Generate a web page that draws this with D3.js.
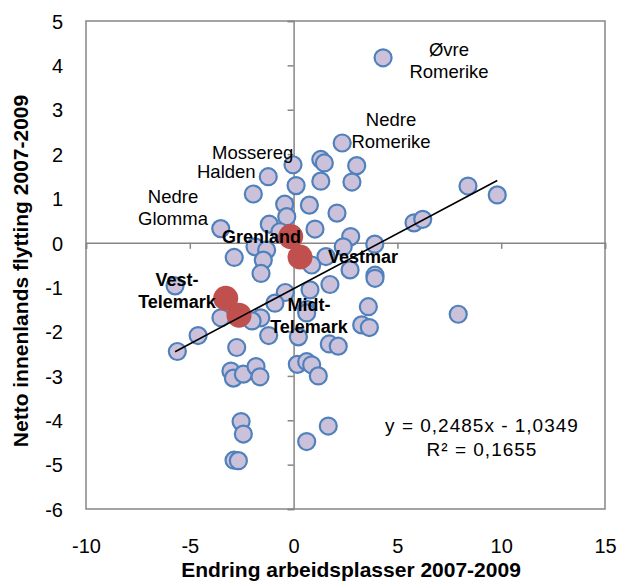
<!DOCTYPE html>
<html>
<head>
<meta charset="utf-8">
<script src="https://cdn.jsdelivr.net/npm/d3@7/dist/d3.min.js"></script>
<style>
  html, body { margin: 0; padding: 0; background: #fff; }
  svg { display: block; font-family: "Liberation Sans", Arial, sans-serif; }
</style>
</head>
<body>
<svg id="chart" width="619" height="581"></svg>
<script>
// ---- data ----
const xTicks = [-10, -5, 0, 5, 10, 15];
const yTicks = [-6, -5, -4, -3, -2, -1, 0, 1, 2, 3, 4, 5];

// all regions (lavender)
const jobsChange = [4.31,2.34,-0.03,1.31,1.48,3.04,-1.22,0.12,1.31,2.81,-1.94,0.76,-0.43,-0.33,2.09,1.03,-1.17,-3.51,2.75,2.39,3.91,5.80,6.22,8.40,9.81,-0.66,-1.86,-1.30,-2.86,-1.46,-1.57,-5.71,-0.40,-0.90,-3.50,-1.58,-2.00,-4.60,-1.20,-2.74,-5.60,0.79,1.75,0.63,0.63,0.23,1.72,2.15,-3.02,-2.90,-2.42,-1.81,-1.62,0.18,0.63,0.87,1.19,-2.53,-2.42,-2.87,-2.66,0.63,1.67,1.56,0.87,2.72,3.92,3.92,3.60,3.28,3.65,7.93];
const netMigration = [4.17,2.25,1.76,1.88,1.80,1.74,1.49,1.29,1.39,1.37,1.10,0.85,0.87,0.59,0.67,0.31,0.42,0.32,0.14,-0.09,-0.03,0.45,0.53,1.28,1.08,0.25,-0.09,-0.16,-0.33,-0.39,-0.69,-0.97,-1.12,-1.36,-1.69,-1.69,-1.76,-2.09,-2.09,-2.36,-2.45,-1.06,-0.94,-1.50,-1.58,-2.12,-2.28,-2.33,-2.89,-3.05,-2.96,-2.79,-3.02,-2.74,-2.68,-2.75,-3.00,-4.03,-4.31,-4.90,-4.91,-4.48,-4.13,-0.31,-0.50,-0.61,-0.73,-0.80,-1.44,-1.85,-1.91,-1.61];

// Telemark regions (red)
const telemarkNames = ["Grenland", "Vestmar", "Vest-Telemark", "Midt-Telemark"];
const telemarkJobs = [-0.14, 0.31, -3.27, -2.63];
const telemarkMigration = [0.14, -0.32, -1.25, -1.63];

// trend line
const slope = 0.2485, intercept = -1.0349;
const equationText = "y = 0,2485x - 1,0349";
const r2Text = "R² = 0,1655";

const xTitle = "Endring arbeidsplasser 2007-2009";
const yTitle = "Netto innenlands flytting 2007-2009";

// labels: text lines
const labelTexts = [
  ["Øvre", "Romerike"],
  ["Nedre", "Romerike"],
  ["Mossereg"],
  ["Halden"],
  ["Nedre", "Glomma"],
  ["Grenland"],
  ["Vestmar"],
  ["Vest-", "Telemark"],
  ["Midt-", "Telemark"]
];
// layout (pixel positions / styles) for labels
const labelLayout = [
  {x: 449, y: 56, anchor: "middle", bold: false},
  {x: 391, y: 126, anchor: "middle", bold: false},
  {x: 212, y: 159, anchor: "start", bold: false},
  {x: 197, y: 178, anchor: "start", bold: false},
  {x: 173, y: 203, anchor: "middle", bold: false},
  {x: 222, y: 243, anchor: "start", bold: true},
  {x: 328, y: 263, anchor: "start", bold: true},
  {x: 177, y: 286, anchor: "middle", bold: true},
  {x: 309, y: 311, anchor: "middle", bold: true}
];

// ---- chart ----
const svg = d3.select("#chart");
const L = 86, R = 605, T = 21, B = 509;
const x = d3.scaleLinear().domain([-10, 15]).range([L, R]);
const y = d3.scaleLinear().domain([-6, 5]).range([B, T]);
const axisColor = "#868686";

// frame
svg.append("rect").attr("x", L).attr("y", T).attr("width", R - L).attr("height", B - T)
  .attr("fill", "none").attr("stroke", axisColor).attr("stroke-width", 1.5);

// zero axes with ticks
const yZero = svg.append("g").attr("transform", `translate(${x(0)},0)`)
  .call(d3.axisLeft(y).tickValues(yTicks).tickSize(6).tickFormat(""));
const xZero = svg.append("g").attr("transform", `translate(0,${y(0)})`)
  .call(d3.axisBottom(x).tickValues(xTicks).tickSize(6).tickFormat(""));
[yZero, xZero].forEach(g => {
  g.selectAll("path, line").attr("stroke", axisColor).attr("stroke-width", 1.5);
});

// tick labels on frame edges
const yLab = svg.append("g").attr("transform", `translate(${L},0)`)
  .call(d3.axisLeft(y).tickValues(yTicks).tickSize(0).tickPadding(23).tickFormat(d3.format("d")));
const xLab = svg.append("g").attr("transform", `translate(0,${B})`)
  .call(d3.axisBottom(x).tickValues(xTicks).tickSize(0).tickPadding(30).tickFormat(d3.format("d")));
[yLab, xLab].forEach(g => {
  g.select(".domain").remove();
  g.selectAll("text").attr("font-size", 20).attr("fill", "#000")
    .attr("font-family", "Liberation Sans, Arial, sans-serif");
});
yLab.selectAll("text").attr("dy", "0.36em");
// use real minus as hyphen like reference
yLab.selectAll("text").text(d => String(d));
xLab.selectAll("text").text(d => String(d));

// points
const pts = jobsChange.map((v, i) => ({x: v, y: netMigration[i]}));
svg.append("g").selectAll("circle").data(pts).join("circle")
  .attr("cx", d => x(d.x)).attr("cy", d => y(d.y)).attr("r", 8.5)
  .attr("fill", "#ccc1da").attr("stroke", "#4f81bd").attr("stroke-width", 2.2);

const red = telemarkJobs.map((v, i) => ({x: v, y: telemarkMigration[i], name: telemarkNames[i]}));
svg.append("g").selectAll("circle").data(red).join("circle")
  .attr("cx", d => x(d.x)).attr("cy", d => y(d.y)).attr("r", 12.5)
  .attr("fill", "#c0504d");

// trend line
const allX = jobsChange.concat(telemarkJobs);
const xmin = d3.min(allX), xmax = d3.max(allX);
svg.append("line")
  .attr("x1", x(xmin)).attr("y1", y(slope * xmin + intercept))
  .attr("x2", x(xmax)).attr("y2", y(slope * xmax + intercept))
  .attr("stroke", "#000").attr("stroke-width", 1.6);

// labels
labelTexts.forEach((lines, i) => {
  const lay = labelLayout[i];
  const t = svg.append("text")
    .attr("x", lay.x).attr("y", lay.y)
    .attr("text-anchor", lay.anchor)
    .attr("font-size", lay.bold ? 18 : 18.5)
    .attr("font-weight", lay.bold ? "bold" : "normal")
    .attr("fill", "#000");
  lines.forEach((ln, j) => {
    t.append("tspan").attr("x", lay.x).attr("dy", j === 0 ? 0 : 21.5).text(ln);
  });
});

// equation
svg.append("text").attr("x", 482).attr("y", 432).attr("text-anchor", "middle")
  .attr("font-size", 19).attr("letter-spacing", "1px").attr("fill", "#000").text(equationText);
svg.append("text").attr("x", 482).attr("y", 456).attr("text-anchor", "middle")
  .attr("font-size", 19).attr("letter-spacing", "1px").attr("fill", "#000").text(r2Text);

// axis titles
svg.append("text").attr("x", 351).attr("y", 577).attr("text-anchor", "middle")
  .attr("font-size", 21).attr("font-weight", "bold").attr("fill", "#000").text(xTitle);
svg.append("text").attr("transform", "translate(28,271) rotate(-90)").attr("text-anchor", "middle")
  .attr("font-size", 21).attr("font-weight", "bold").attr("fill", "#000").text(yTitle);
</script>
</body>
</html>
